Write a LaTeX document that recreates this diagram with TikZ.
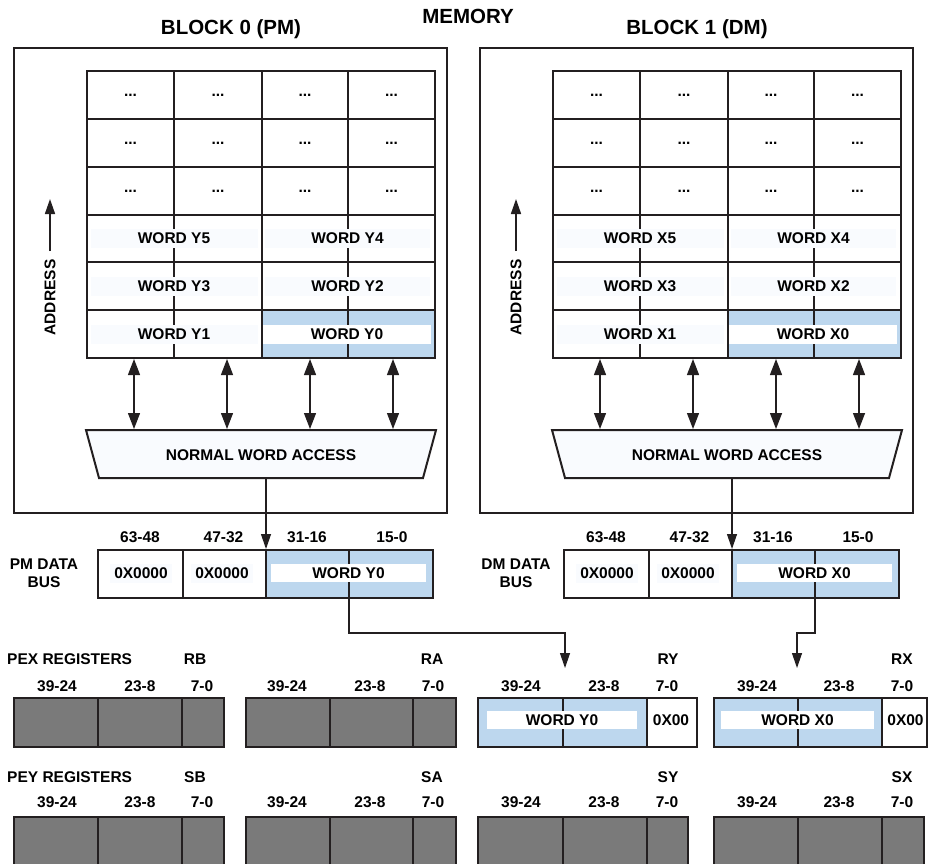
\documentclass[tikz,border=0pt]{standalone}
\usepackage{fontspec}
\setmainfont{Liberation Sans}
\usetikzlibrary{arrows.meta}
\definecolor{ln}{RGB}{35,31,32}
\definecolor{cblue}{RGB}{189,215,238}
\definecolor{cgray}{RGB}{122,122,122}
\definecolor{faint}{RGB}{249,251,254}
\newcommand{\myreg}[7]{%
  \fill[cgray] (#2,#6) rectangle (#5,#7);
  \draw[regbox] (#2,#6) rectangle (#5,#7);
  \draw[regbox] (#3,#6) -- (#3,#7) (#4,#6) -- (#4,#7);
  \coordinate (#1) at (#2,#6);}
\begin{document}
\begin{tikzpicture}[x=1pt,y=-1pt,
  lbl/.style={font=\fontsize{15.5}{18}\selectfont\bfseries, inner sep=0pt, text=black},
  ttl/.style={font=\fontsize{20.5}{24}\selectfont\bfseries, inner sep=0pt},
  bg/.style={lbl, fill=faint, minimum height=19pt},
  wbg/.style={lbl, fill=white, minimum height=19pt},
  frame/.style={draw=ln, line width=2pt},
  gridl/.style={draw=ln, line width=2pt},
  regbox/.style={draw=ln, line width=2pt},
  biarr/.style={draw=ln, line width=1.3pt, {Triangle[length=16pt,width=12pt]}-{Triangle[length=16pt,width=12pt]}},
  arr/.style={draw=ln, line width=1.2pt, -{Triangle[length=15pt,width=10pt]}}
]
\useasboundingbox (0,0) rectangle (928,863);
\clip (0,0) rectangle (928,863);
\node[ttl] (mem) at (468,16) {MEMORY};

\foreach \b/\dx/\L/\m/\bn in {0/0/Y/PM/44,1/466/X/DM/50}{
\begin{scope}[xshift=\dx pt]
  \node[ttl] (title\b) at (231,29) {BLOCK \b\ (\m)};
  \draw[frame] (14,48) rectangle (447,513);
  % memory grid
  \fill[cblue] (262,310) rectangle (435,358);
  \foreach \yy in {119,167,215,262,310} \draw[gridl] (87,\yy) -- (435,\yy);
  \foreach \xx in {174,262,348} \draw[gridl] (\xx,71) -- (\xx,358);
  \draw[gridl] (87,71) rectangle (435,358);
  \foreach \cx [count=\i] in {130.5,218,305,391.5}
    \foreach \cy [count=\j] in {95,143,191}
      \node[lbl] (dots\b-\i-\j) at (\cx,\cy) {...};
  \node[bg, minimum width=167pt] (w\b5) at (174,238.5) {WORD \L5};
  \node[bg, minimum width=165pt] (w\b4) at (347.5,238.5) {WORD \L4};
  \node[bg, minimum width=167pt] (w\b3) at (174,286) {WORD \L3};
  \node[bg, minimum width=165pt] (w\b2) at (347.5,286) {WORD \L2};
  \node[bg, minimum width=167pt] (w\b1) at (174,334) {WORD \L1};
  \node[wbg, minimum width=168pt] (w\b0) at (347,334.5) {WORD \L0};
  % address arrow
  \node[lbl, rotate=90] (addr\b) at (50,297.5) {ADDRESS};
  \coordinate (atail\b) at (50,251);
  \coordinate (atip\b) at (50,199);
  \draw[arr, line width=1.6pt] (atail\b) -- (atip\b);
  % normal word access
  \draw[frame, fill=faint] (86,430) -- (436,430) -- (423,478) -- (99,478) -- cycle;
  \node[lbl] (nwa\b) at (261,455) {NORMAL WORD ACCESS};
  \foreach \ax [count=\k] in {134,227,310,393}{
    \coordinate (gt\b\k) at (\ax,359);
    \coordinate (tt\b\k) at (\ax,429);
    \draw[biarr] (gt\b\k) -- (tt\b\k);
  }
  % data bus
  \fill[cblue] (266,550) rectangle (433,598);
  \draw[frame] (98,550) rectangle (433,598);
  \foreach \xx in {183,266,349} \draw[gridl] (\xx,550) -- (\xx,598);
  \node[lbl, align=center] (busname\b) at (\bn,573) {\m\ DATA\\BUS};
  \node[lbl] (b63\b) at (140,537) {63-48};
  \node[lbl] (b47\b) at (223.5,537) {47-32};
  \node[lbl] (b31\b) at (307,537) {31-16};
  \node[lbl] (b15\b) at (392,537) {15-0};
  \node[bg, minimum width=62pt] (za\b) at (141,573) {0X0000};
  \node[bg, minimum width=62pt] (zb\b) at (222,573) {0X0000};
  \node[wbg, minimum width=155pt, minimum height=18pt] (bw\b) at (348.5,573) {WORD \L0};
  \coordinate (tout\b) at (266,478);
  \coordinate (bin\b) at (266,549);
  \draw[arr] (tout\b) -- (bin\b);
  \coordinate (bout\b) at (349,599);
\end{scope}
}

% ---------- PEX registers ----------
\node[lbl, anchor=west] (pex) at (7,659) {PEX REGISTERS};
\node[lbl] (lrb) at (195,659) {RB};
\node[lbl] (lra) at (432,659) {RA};
\node[lbl] (lry) at (668,659) {RY};
\node[lbl] (lrx) at (902,659) {RX};
\foreach \xx/\t [count=\n] in {57/39-24,140/23-8,202/7-0,287/39-24,370/23-8,433/7-0,521/39-24,604/23-8,667/7-0,757/39-24,839/23-8,902/7-0}{
  \node[lbl] (pb\n) at (\xx,686) {\t};
  \node[lbl] (sb\n) at (\xx,802) {\t};
}
\myreg{rb}{14}{98}{182}{224}{698}{747}
\myreg{ra}{246}{330}{413}{456}{698}{747}
% RY
\fill[cblue] (478,698) rectangle (647,747);
\fill[white] (647,698) rectangle (697,747);
\draw[regbox] (478,698) rectangle (697,747);
\draw[regbox] (563,698) -- (563,747) (647,698) -- (647,747);
\node[wbg, minimum width=150pt, minimum height=18pt] (ryw) at (562,720) {WORD Y0};
\node[lbl] (ryz) at (671,720) {0X00};
% RX
\fill[cblue] (714,698) rectangle (882,747);
\fill[white] (882,698) rectangle (927,747);
\draw[regbox] (714,698) rectangle (927,747);
\draw[regbox] (798,698) -- (798,747) (882,698) -- (882,747);
\node[wbg, minimum width=153pt, minimum height=18pt] (rxw) at (797.5,720) {WORD X0};
\node[lbl] (rxz) at (905.5,720) {0X00};

% ---------- PEY registers ----------
\node[lbl, anchor=west] (pey) at (7,777) {PEY REGISTERS};
\node[lbl] (lsb) at (195,777) {SB};
\node[lbl] (lsa) at (432,777) {SA};
\node[lbl] (lsy) at (668,777) {SY};
\node[lbl] (lsx) at (902,777) {SX};
\myreg{sbr}{14}{98}{182}{224}{817}{880}
\myreg{sar}{246}{330}{413}{456}{817}{880}
\myreg{syr}{478}{563}{647}{688}{817}{880}
\myreg{sxr}{714}{798}{882}{924}{817}{880}

% ---------- connections ----------
\coordinate (ryin) at (565,668);
\coordinate (rxin) at (797,668);
\draw[arr] (bout0) -- ++(0,34) -| (ryin);
\draw[arr] (bout1) -- ++(0,34) -| (rxin);
\end{tikzpicture}
\end{document}
